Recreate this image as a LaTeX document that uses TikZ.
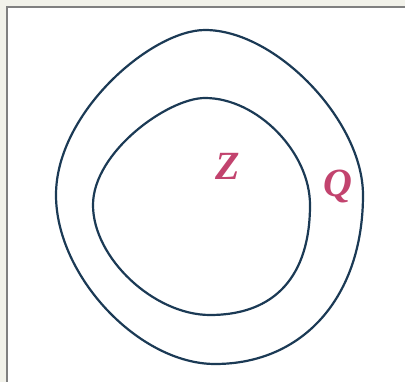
\documentclass[tikz,border=0pt]{standalone}
\usepackage{fontspec}
\setmainfont{Liberation Serif}
\begin{document}
\begin{tikzpicture}[x=1pt,y=-1pt,
  curve/.style={draw=ln, line width=2.2pt},
  lbl/.style={text=lb, font=\fontsize{40}{40}\selectfont\bfseries\itshape, inner sep=0pt}]
\definecolor{bg}{HTML}{F2F2EA}
\definecolor{ln}{HTML}{1B3A55}
\definecolor{lb}{HTML}{C2436E}
\useasboundingbox (0,0) rectangle (405,382);
\fill[bg] (0,0) rectangle (405,382);
\fill[white] (7,7) rectangle (405,382);
\draw[gray, line width=1.5pt] (7,382) -- (7,7) -- (405,7);
% outer curve
\draw[curve] (205,30) .. controls (276,30) and (363,121) .. (363,195)
  .. controls (363,296) and (304,364) .. (215,364)
  .. controls (139,364) and (56,276) .. (56,195)
  .. controls (56,112) and (152,30) .. cycle;
% inner curve
\draw[curve] (205,98) .. controls (257,98) and (310,152) .. (310,205)
  .. controls (310,276) and (275,315) .. (210,315)
  .. controls (154,315) and (93,258) .. (93,205)
  .. controls (93,152) and (168,98) .. cycle;
\node[lbl] (z) at (228,166) {Z};
\node[lbl] (q) at (338,187) {Q};
\end{tikzpicture}
\end{document}
